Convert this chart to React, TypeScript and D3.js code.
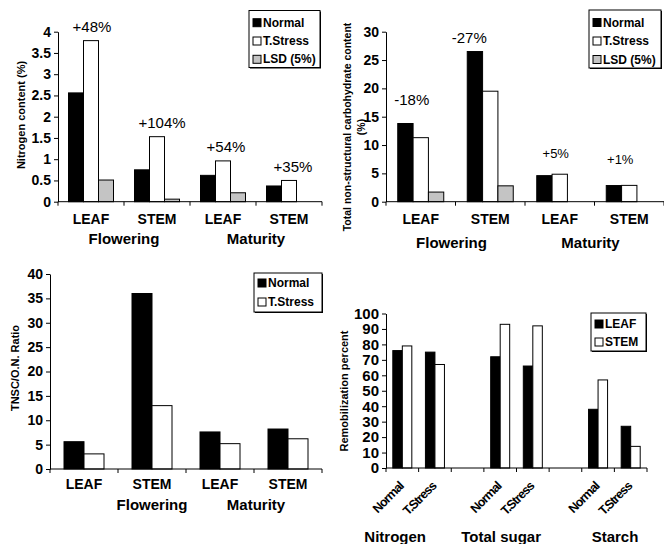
import { useEffect, useRef } from "react";
import * as d3 from "d3";

const FONT = "'Liberation Sans', Arial, sans-serif";

// shared categories
const organs = ["LEAF", "STEM", "LEAF", "STEM"];
const stages = ["Flowering", "Maturity"];

// top left: nitrogen content (%)
const nitroNormal = [2.56, 0.75, 0.62, 0.37];
const nitroStress = [3.79, 1.53, 0.96, 0.5];
const nitroLsd = [0.51, 0.06, 0.21, null];
const nitroChange = ["+48%", "+104%", "+54%", "+35%"];
const nitroTicks = [0, 0.5, 1, 1.5, 2, 2.5, 3, 3.5, 4];

// top right: total non-structural carbohydrate (%)
const tnscNormal = [13.8, 26.5, 4.6, 2.85];
const tnscStress = [11.3, 19.5, 4.85, 2.88];
const tnscLsd = [1.7, 2.8, null, null];
const tnscChange = ["-18%", "-27%", "+5%", "+1%"];
const tnscTicks = [0, 5, 10, 15, 20, 25, 30];

// bottom left: TNSC / O.N. ratio
const ratioNormal = [5.6, 36, 7.6, 8.2];
const ratioStress = [3.1, 13, 5.2, 6.2];
const ratioTicks = [0, 5, 10, 15, 20, 25, 30, 35, 40];

// bottom right: remobilization percent
const remobCats = ["Normal", "T.Stress", "", "Normal", "T.Stress", "", "Normal", "T.Stress"];
const remobGroups = ["Nitrogen", "Total sugar", "Starch"];
const remobLeaf = [76, 75, null, 72, 66, null, 38, 27];
const remobStem = [79, 67, null, 93, 92, null, 57, 14];
const remobTicks = [0, 10, 20, 30, 40, 50, 60, 70, 80, 90, 100];

const BLACK = "#000";
const WHITE = "#fff";
const GREY = "#c4c4c4";

type Series = { key: string; values: (number | null)[]; fill: string };

const Legend = ({ x, y, w, h, rows, gap, items }) => (
  <g>
    <rect x={x + 1} y={y + 1} width={w} height={h} fill="#000" />
    <rect x={x} y={y} width={w} height={h} fill="#fff" stroke="#000" strokeWidth={1} />
    {items.map((s, i) => (
      <g key={s.key}>
        <rect x={x + 4} y={y + rows + i * gap - 4} width={8} height={8} fill={s.fill} stroke="#000" strokeWidth={1} />
        <text x={x + 14} y={y + rows + i * gap} dominantBaseline="central" fontSize={12} fontWeight="bold" fontFamily={FONT}>
          {s.key}
        </text>
      </g>
    ))}
  </g>
);

const Panel = ({ left, right, top, bottom, max, ticks, nCats, series, groupFrac, tickFont, extra }) => {
  const x0 = d3.scaleBand<number>().domain(d3.range(nCats)).range([left, right]);
  const bw = x0.bandwidth();
  const pad = (bw * (1 - groupFrac)) / 2;
  const x1 = d3.scaleBand<string>().domain(series.map((s: Series) => s.key)).range([pad, bw - pad]);
  const y = d3.scaleLinear().domain([0, max]).range([bottom, top]);
  const yRef = useRef<SVGGElement>(null);

  useEffect(() => {
    const g = d3.select(yRef.current);
    g.call(
      d3.axisLeft(y).tickValues(ticks).tickSize(4).tickSizeOuter(0).tickPadding(3).tickFormat((d) => String(d))
    );
    g.attr("font-family", FONT).attr("font-size", tickFont).attr("font-weight", "bold");
    g.selectAll("text").attr("fill", "#000");
    g.selectAll("line,path").attr("stroke", "#000");
  });

  return (
    <g>
      {series.map((s: Series) =>
        s.values.map((v, i) =>
          v == null ? null : (
            <rect
              key={s.key + i}
              x={x0(i) + x1(s.key)}
              y={y(v)}
              width={x1.bandwidth()}
              height={y(0) - y(v)}
              fill={s.fill}
              stroke="#000"
              strokeWidth={1}
            />
          )
        )
      )}
      <line x1={left} x2={right} y1={y(0)} y2={y(0)} stroke="#000" />
      {d3.range(nCats + 1).map((i) => (
        <line key={i} x1={left + i * bw} x2={left + i * bw} y1={y(0)} y2={y(0) + 4} stroke="#000" />
      ))}
      <g ref={yRef} transform={`translate(${left},0)`} />
      {extra && extra({ x0, x1, y, bw })}
    </g>
  );
};

const bold = (size: number) => ({ fontFamily: FONT, fontWeight: "bold" as const, fontSize: size });

export default function App() {
  const nitroSeries = [
    { key: "Normal", values: nitroNormal, fill: BLACK },
    { key: "T.Stress", values: nitroStress, fill: WHITE },
    { key: "LSD (5%)", values: nitroLsd, fill: GREY },
  ];
  const tnscSeries = [
    { key: "Normal", values: tnscNormal, fill: BLACK },
    { key: "T.Stress", values: tnscStress, fill: WHITE },
    { key: "LSD (5%)", values: tnscLsd, fill: GREY },
  ];
  const ratioSeries = [
    { key: "Normal", values: ratioNormal, fill: BLACK },
    { key: "T.Stress", values: ratioStress, fill: WHITE },
  ];
  const remobSeries = [
    { key: "LEAF", values: remobLeaf, fill: BLACK },
    { key: "STEM", values: remobStem, fill: WHITE },
  ];

  // label nudges (layout only)
  const nitroDx = [1, 5, 3, 4];
  const tnscOff = [
    [-9, -24, 15],
    [-21, -14, 15],
    [-4, -21, 13],
    [-9, -26, 13],
  ];

  return (
    <svg
      width={664}
      height={544}
      viewBox="0 0 664 544"
      style={{ position: "absolute", left: 0, top: 0, background: "#fff" }}
    >
      {/* top left */}
      <Panel
        left={58}
        right={322}
        top={31.7}
        bottom={201.7}
        max={4}
        ticks={nitroTicks}
        nCats={4}
        series={nitroSeries}
        groupFrac={45 / 66}
        tickFont={14}
        extra={({ x0, x1, y, bw }) => (
          <g>
            {nitroChange.map((t, i) => (
              <text
                key={i}
                x={x0(i) + x1("T.Stress") + x1.bandwidth() / 2 + nitroDx[i]}
                y={y(Math.max(nitroNormal[i], nitroStress[i])) - 14}
                textAnchor="middle"
                dominantBaseline="central"
                fontFamily={FONT}
                fontSize={15}
              >
                {t}
              </text>
            ))}
            {organs.map((o, i) => (
              <text key={i} x={x0(i) + bw / 2} y={219} textAnchor="middle" dominantBaseline="central" {...bold(14)}>
                {o}
              </text>
            ))}
            {stages.map((s, i) => (
              <text key={s} x={x0(i * 2 + 1)} y={238} textAnchor="middle" dominantBaseline="central" {...bold(15)}>
                {s}
              </text>
            ))}
          </g>
        )}
      />
      <text transform="translate(21,115) rotate(-90)" textAnchor="middle" dominantBaseline="central" {...bold(11)}>
        Nitrogen content (%)
      </text>
      <Legend x={249} y={10.5} w={71} h={57} rows={12.2} gap={18.3} items={nitroSeries} />

      {/* top right */}
      <Panel
        left={386}
        right={664}
        top={31.7}
        bottom={201.7}
        max={30}
        ticks={tnscTicks}
        nCats={4}
        series={tnscSeries}
        groupFrac={46 / 69.5}
        tickFont={14}
        extra={({ x0, y, bw }) => (
          <g>
            {tnscChange.map((t, i) => (
              <text
                key={i}
                x={x0(i) + bw / 2 + tnscOff[i][0]}
                y={y(Math.max(tnscNormal[i], tnscStress[i])) + tnscOff[i][1]}
                textAnchor="middle"
                dominantBaseline="central"
                fontFamily={FONT}
                fontSize={tnscOff[i][2]}
              >
                {t}
              </text>
            ))}
            {organs.map((o, i) => (
              <text key={i} x={x0(i) + bw / 2} y={219} textAnchor="middle" dominantBaseline="central" {...bold(14)}>
                {o}
              </text>
            ))}
            {stages.map((s, i) => (
              <text key={s} x={x0(i * 2 + 1) - 4} y={242} textAnchor="middle" dominantBaseline="central" {...bold(15)}>
                {s}
              </text>
            ))}
          </g>
        )}
      />
      <text transform="translate(347,127) rotate(-90)" textAnchor="middle" dominantBaseline="central" {...bold(10.5)}>
        Total non-structural carbohydrate content
      </text>
      <text transform="translate(361,127) rotate(-90)" textAnchor="middle" dominantBaseline="central" {...bold(10.5)}>
        (%)
      </text>
      <Legend x={589} y={10} w={72} h={58} rows={12.5} gap={18.5} items={tnscSeries} />

      {/* bottom left */}
      <Panel
        left={50}
        right={322}
        top={274}
        bottom={469}
        max={40}
        ticks={ratioTicks}
        nCats={4}
        series={ratioSeries}
        groupFrac={40 / 68}
        tickFont={14}
        extra={({ x0, bw }) => (
          <g>
            {organs.map((o, i) => (
              <text key={i} x={x0(i) + bw / 2} y={484} textAnchor="middle" dominantBaseline="central" {...bold(14)}>
                {o}
              </text>
            ))}
            <text x={x0(1) + bw / 2} y={504} textAnchor="middle" dominantBaseline="central" {...bold(15)}>
              {stages[0]}
            </text>
            <text x={x0(3) + 2} y={504} textAnchor="middle" dominantBaseline="central" {...bold(15)}>
              {stages[1]}
            </text>
          </g>
        )}
      />
      <text transform="translate(15,368) rotate(-90)" textAnchor="middle" dominantBaseline="central" {...bold(11)}>
        TNSC/O.N. Ratio
      </text>
      <Legend x={254} y={273} w={68} h={39} rows={10} gap={19} items={ratioSeries} />

      {/* bottom right */}
      <Panel
        left={386}
        right={647}
        top={313.5}
        bottom={468}
        max={100}
        ticks={remobTicks}
        nCats={8}
        series={remobSeries}
        groupFrac={19 / 32.6}
        tickFont={15}
        extra={({ x0, y, bw }) => (
          <g>
            {remobCats.map((c, i) =>
              c ? (
                <text
                  key={i}
                  transform={`translate(${x0(i) + bw / 2 + 2},${y(0) + 19}) rotate(-45)`}
                  textAnchor="end"
                  {...bold(12.5)}
                  letterSpacing={-0.9}
                >
                  {c}
                </text>
              ) : null
            )}
            {remobGroups.map((g, k) => (
              <text
                key={g}
                x={x0(0) + bw * [0.28, 3.53, 7.02][k]}
                y={536}
                textAnchor="middle"
                dominantBaseline="central"
                {...bold(15)}
              >
                {g}
              </text>
            ))}
          </g>
        )}
      />
      <text transform="translate(344,391) rotate(-90)" textAnchor="middle" dominantBaseline="central" {...bold(11)}>
        Remobilization percent
      </text>
      <Legend x={591} y={313} w={55} h={38} rows={11} gap={18} items={remobSeries} />
    </svg>
  );
}
